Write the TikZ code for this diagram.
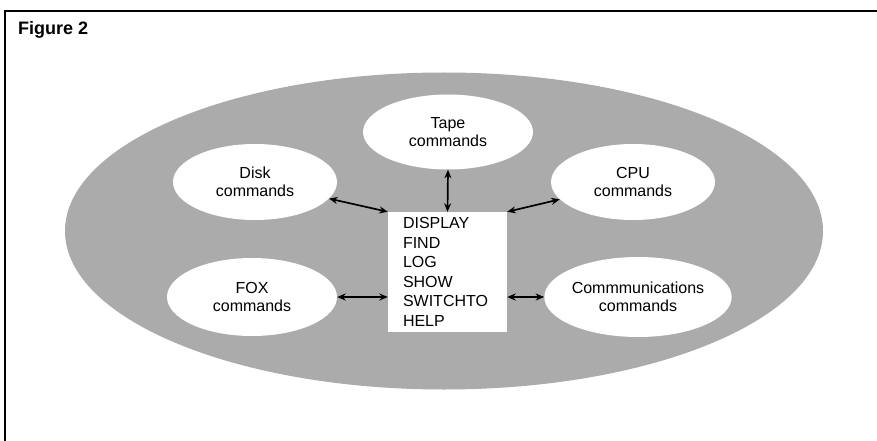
\documentclass[tikz,border=0pt]{standalone}
\usepackage{fontspec}
\setmainfont{Liberation Sans}
\usetikzlibrary{shapes.geometric,arrows.meta}
\begin{document}
\begin{tikzpicture}[x=1pt,y=-1pt,
  oval/.style={ellipse,fill=white,inner sep=0pt,align=center,
    font=\fontsize{16}{18}\selectfont},
  cmdbox/.style={rectangle,fill=white,inner xsep=15pt,inner ysep=0pt,
    text width=89pt,minimum height=120pt,align=left,
    font=\fontsize{16}{19.5}\selectfont},
  dbl/.style={line width=1.7pt,{Stealth[length=8.5pt,width=7pt]}-{Stealth[length=8.5pt,width=7pt]}},
  frameline/.style={line width=2pt,line cap=rect}]
\useasboundingbox (0,0) rectangle (877,441);
% frame
\draw[frameline] (877,11) -- (5,11) -- (5,441);
\node[anchor=base west,inner sep=0pt,font=\fontsize{18}{18}\selectfont\bfseries] (title) at (18,35) {Figure 2};
% big shaded ellipse
\node[ellipse,fill=black!33,minimum width=758pt,minimum height=317pt,inner sep=0pt] (big) at (444,231) {};
% satellite ellipses
\node[oval,minimum width=170pt,minimum height=75pt] (tape) at (448,132) {Tape\\commands};
\node[oval,minimum width=164pt,minimum height=76pt] (disk) at (255,182) {Disk\\commands};
\node[oval,minimum width=164pt,minimum height=76pt] (cpu) at (633,182) {CPU\\commands};
\node[oval,minimum width=170pt,minimum height=78pt] (fox) at (252,297) {FOX\\commands};
\node[oval,minimum width=184pt,minimum height=80pt] (comm) at (638,297) {Commmunications\\commands};
% central command box
\node[cmdbox] (cmds) at (447.5,272) {DISPLAY\\FIND\\LOG\\SHOW\\SWITCHTO\\HELP};
% connectors
\draw[dbl] (tape.south) -- (cmds.north);
\draw[dbl] (disk) -- (cmds.north west);
\draw[dbl] (cpu) -- (cmds.north east);
\draw[dbl] (fox.east) -- (fox.east -| cmds.west);
\draw[dbl] (comm.west -| cmds.east) -- (comm.west);
\end{tikzpicture}
\end{document}
